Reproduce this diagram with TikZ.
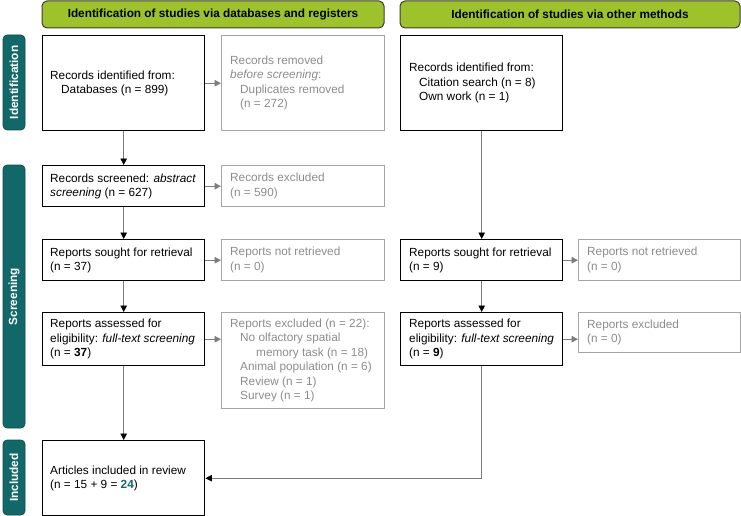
\documentclass[tikz,border=0pt]{standalone}
\usepackage{fontspec}
\setmainfont{Liberation Sans}
\usetikzlibrary{arrows.meta}
\definecolor{hdrgreen}{RGB}{158,194,44}
\definecolor{hdrline}{RGB}{60,60,50}
\definecolor{sideteal}{RGB}{18,104,104}
\definecolor{boxgray}{RGB}{165,165,165}
\definecolor{txtgray}{RGB}{140,140,140}
\definecolor{linegray}{RGB}{125,125,125}
\begin{document}
\begin{tikzpicture}[x=1pt,y=-1pt,
  box/.style={draw=black, line width=1.4pt, minimum width=162pt, anchor=north west, inner sep=0pt},
  gbox/.style={draw=boxgray, line width=1.1pt, minimum width=163pt, anchor=north west, inner sep=0pt},
  txt/.style={anchor=west, align=left, inner sep=0pt, font=\fontsize{11.8}{14.5}\selectfont},
  gtxt/.style={txt, text=txtgray},
  hdr/.style={draw=hdrline, line width=1pt, fill=hdrgreen, rounded corners=5pt, minimum height=27pt, font=\fontsize{11.8}{14}\selectfont\bfseries},
  side/.style={fill=sideteal, draw=sideteal!70!black, line width=0.6pt, rounded corners=4pt, rotate=90, minimum height=22pt, text=white, font=\fontsize{11.8}{14}\selectfont\bfseries},
  barrow/.style={draw=linegray, line width=0.9pt, -{Triangle[length=6.5pt,width=6.5pt,color=black]}},
  garrow/.style={draw=linegray, line width=0.9pt, -{Triangle[length=6.5pt,width=6.5pt]}}]
\useasboundingbox (0,0) rectangle (741,516);

% headers
\node[hdr, minimum width=342pt] (h1) at (213,14.5) {Identification of studies via databases and registers};
\node[hdr, minimum width=340pt] (h2) at (570,14.5) {Identification of studies via other methods};

% side bars
\node[side, minimum width=95pt] (s1) at (14,82.5) {Identification};
\node[side, minimum width=263pt] (s2) at (14,296.5) {Screening};
\node[side, minimum width=75pt] (s3) at (14,477.5) {Included};

% left column
\node[box, minimum height=95pt] (db) at (42,35) {};
\node[txt] (dbt) at ([xshift=8pt]db.west) {Records identified from:\\\hspace*{11pt}Databases (n = 899)};
\node[gbox, minimum height=95pt] (rem) at (221,35) {};
\node[gtxt] (remt) at ([xshift=9pt]rem.west) {Records removed\\\textit{before screening}:\\\hspace*{10pt}Duplicates removed\\\hspace*{10pt}(n = 272)};

\node[box, minimum height=41pt] (scr) at (42,165) {};
\node[txt] (scrt) at ([xshift=8pt]scr.west) {Records screened: \textit{abstract}\\\textit{screening} (n = 627)};
\node[gbox, minimum height=41pt] (exc) at (221,165) {};
\node[gtxt] (exct) at ([xshift=9pt]exc.west) {Records excluded\\(n = 590)};

\node[box, minimum height=41pt] (sou) at (42,239) {};
\node[txt] (sout) at ([xshift=8pt]sou.west) {Reports sought for retrieval\\(n = 37)};
\node[gbox, minimum height=41pt] (nre) at (221,239) {};
\node[gtxt] (nret) at ([xshift=9pt]nre.west) {Reports not retrieved\\(n = 0)};

\node[box, minimum height=53pt] (ass) at (42,312) {};
\node[txt] (asst) at ([xshift=8pt]ass.west) {Reports assessed for\\eligibility: \textit{full-text screening}\\(n = \textbf{37})};
\node[gbox, minimum height=96pt] (rex) at (221,312) {};
\node[gtxt] (rext) at ([xshift=9pt]rex.west) {Reports excluded (n = 22):\\\hspace*{10pt}No olfactory spatial\\\hspace*{26pt}memory task (n = 18)\\\hspace*{10pt}Animal population (n = 6)\\\hspace*{10pt}Review (n = 1)\\\hspace*{10pt}Survey (n = 1)};

\node[box, minimum height=75pt] (inc) at (42,440) {};
\node[txt] (inct) at ([xshift=8pt]inc.west) {Articles included in review\\(n = 15 + 9 = \textbf{\textcolor{sideteal}{24}})};

% right column
\node[box, minimum height=95pt] (rdb) at (400,35) {};
\node[txt] (rdbt) at ([xshift=9pt]rdb.west) {Records identified from:\\\hspace*{10pt}Citation search (n = 8)\\\hspace*{10pt}Own work (n = 1)};

\node[box, minimum height=41pt] (rsou) at (400,239) {};
\node[txt] (rsout) at ([xshift=9pt]rsou.west) {Reports sought for retrieval\\(n = 9)};
\node[gbox, minimum width=162pt, minimum height=41pt] (rnre) at (578,239) {};
\node[gtxt] (rnret) at ([xshift=9pt]rnre.west) {Reports not retrieved\\(n = 0)};

\node[box, minimum height=53pt] (rass) at (400,312) {};
\node[txt] (rasst) at ([xshift=9pt]rass.west) {Reports assessed for\\eligibility: \textit{full-text screening}\\(n = \textbf{9})};
\node[gbox, minimum width=162pt, minimum height=40pt] (rrex) at (578,312) {};
\node[gtxt] (rrext) at ([xshift=9pt]rrex.west) {Reports excluded\\(n = 0)};

% connectors
\draw[barrow] (db.south) -- (scr.north);
\draw[barrow] (scr.south) -- (sou.north);
\draw[barrow] (sou.south) -- (ass.north);
\draw[barrow] (ass.south) -- (inc.north);
\draw[garrow] (db.east) -- (db.east -| rem.west);
\draw[garrow] (scr.east) -- (scr.east -| exc.west);
\draw[garrow] (sou.east) -- (sou.east -| nre.west);
\draw[garrow] (ass.east) -- (ass.east -| rex.west);

\draw[barrow] (rdb.south) -- (rsou.north);
\draw[barrow] (rsou.south) -- (rass.north);
\draw[barrow] (rass.south) |- (inc.east);
\draw[garrow] (rsou.east) -- (rsou.east -| rnre.west);
\draw[garrow] (rass.east) -- (rass.east -| rrex.west);
\end{tikzpicture}
\end{document}
